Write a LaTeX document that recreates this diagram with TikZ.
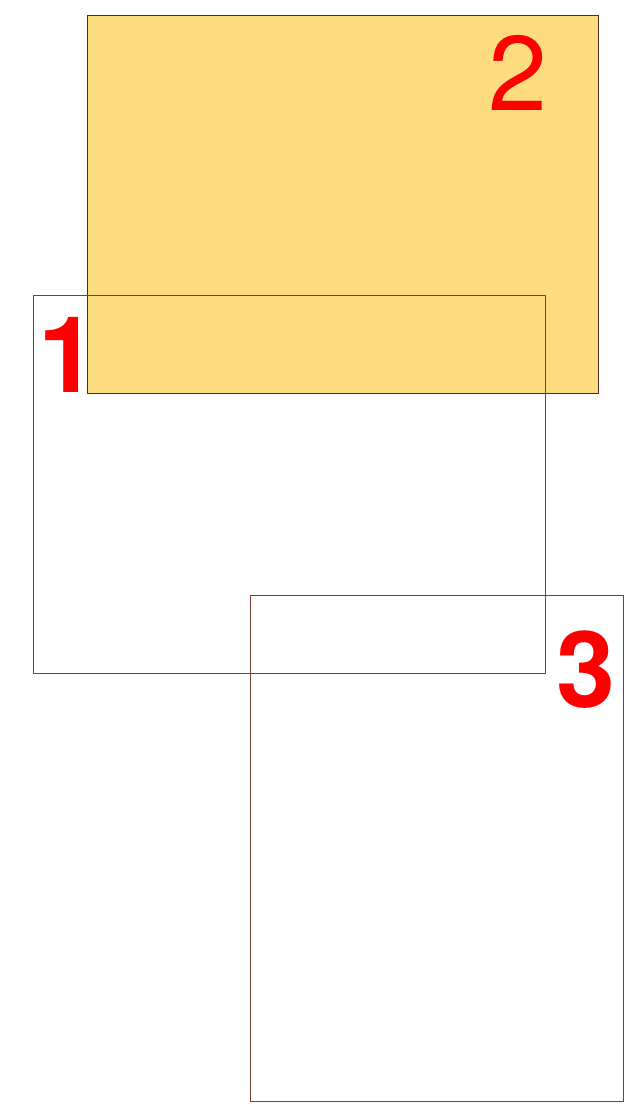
\documentclass[tikz,border=0pt]{standalone}
\usepackage{fontspec}
\setmainfont{TeX Gyre Heros}
\definecolor{sheet}{HTML}{FDDC80}
\definecolor{edgedark}{HTML}{4A2E22}
\definecolor{edgebrown}{HTML}{7A3F30}
\tikzset{
  frame/.style={draw=edgebrown,line width=0.9pt},
  num/.style={text=red,inner sep=0pt,font=\fontsize{106}{106}\selectfont},
  boldnum/.style={num,font=\fontsize{106}{106}\selectfont\bfseries}
}
\begin{document}
\begin{tikzpicture}[x=1pt,y=-1pt]
  \useasboundingbox (0,0) rectangle (631,1115);
  % Filled sheet on top
  \draw[fill=sheet,draw=edgedark,line width=1pt] (87,16) rectangle (598,393);
  % Open frames
  \draw[frame] (33,295) rectangle (545,673);
  \draw[frame] (250,595) rectangle (623,1101);
  % Numbers
  \node[boldnum] (one) at (68,355) {1};
  \node[num] (two) at (518,73) {2};
  \node[boldnum] (three) at (586,670) {3};
\end{tikzpicture}
\end{document}
